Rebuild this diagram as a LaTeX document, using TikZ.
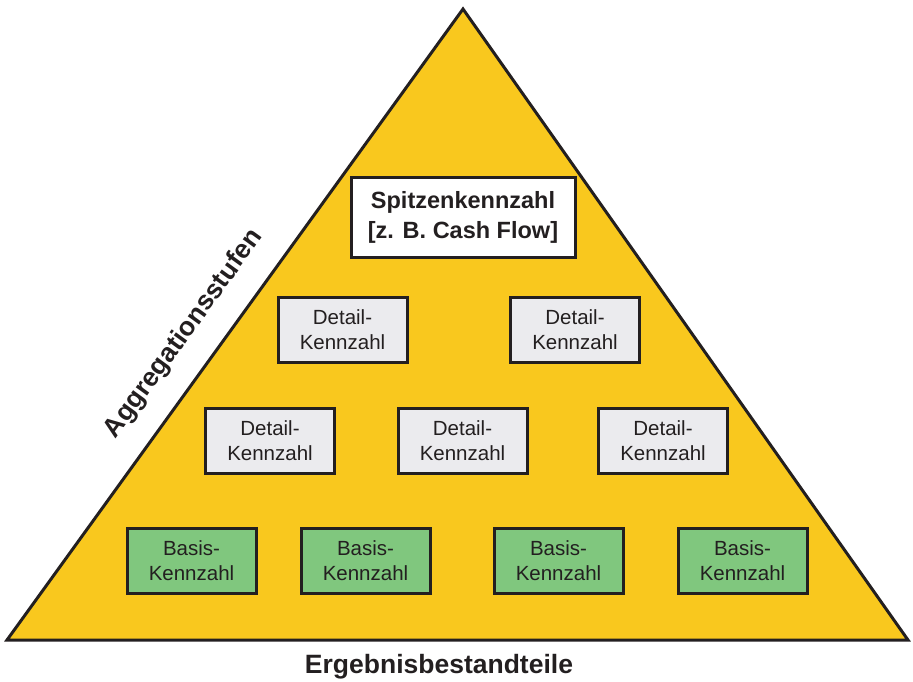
\documentclass[tikz,border=0pt]{standalone}
\usepackage{fontspec}
\setmainfont{Liberation Sans}
\usepackage{xcolor}
\definecolor{pyrgelb}{HTML}{F9C81E}
\definecolor{basisgruen}{HTML}{80C77E}
\definecolor{detailgrau}{HTML}{EBEBEE}
\definecolor{linie}{HTML}{231F20}
\tikzset{
  kbox/.style={draw=linie, line width=3pt, minimum width=129pt, minimum height=65pt,
    align=center, text=linie, font=\fontsize{20.5}{25}\selectfont, inner sep=0pt},
  detailbox/.style={kbox, fill=detailgrau},
  basisbox/.style={kbox, fill=basisgruen},
  topbox/.style={kbox, fill=white, minimum width=224pt, minimum height=80pt,
    font=\fontsize{23.5}{30}\selectfont\bfseries},
  achse/.style={text=linie, font=\fontsize{26.5}{30}\selectfont\bfseries}
}

\begin{document}
\begin{tikzpicture}[x=1pt, y=-1pt]
                \useasboundingbox (0,0) rectangle (913,681);
                \draw[fill=pyrgelb, draw=linie, line width=3pt, line join=miter]
                  (7,640) -- (463,9) -- (908,640) -- cycle;
                \node[topbox] (spitze) at (463,217) {Spitzenkennzahl\\ {[z. B. Cash Flow]}};
                \node[detailbox] (detailA) at (342.5,329.5) {Detail-\\Kennzahl};
                \node[detailbox] (detailB) at (575,329.5) {Detail-\\Kennzahl};
                \node[detailbox] (detailC) at (270,441) {Detail-\\Kennzahl};
                \node[detailbox] (detailD) at (462.5,441) {Detail-\\Kennzahl};
                \node[detailbox] (detailE) at (663,441) {Detail-\\Kennzahl};
                \node[basisbox] (basisA) at (191.5,560.5) {Basis-\\Kennzahl};
                \node[basisbox] (basisB) at (365.5,560.5) {Basis-\\Kennzahl};
                \node[basisbox] (basisC) at (558.5,560.5) {Basis-\\Kennzahl};
                \node[basisbox] (basisD) at (742.5,560.5) {Basis-\\Kennzahl};
                \node[achse, rotate=54] (stufen) at (184,334) {Aggregationsstufen};
                \node[achse] (ergebnis) at (439,667) {Ergebnisbestandteile};
            \end{tikzpicture}
\end{document}
